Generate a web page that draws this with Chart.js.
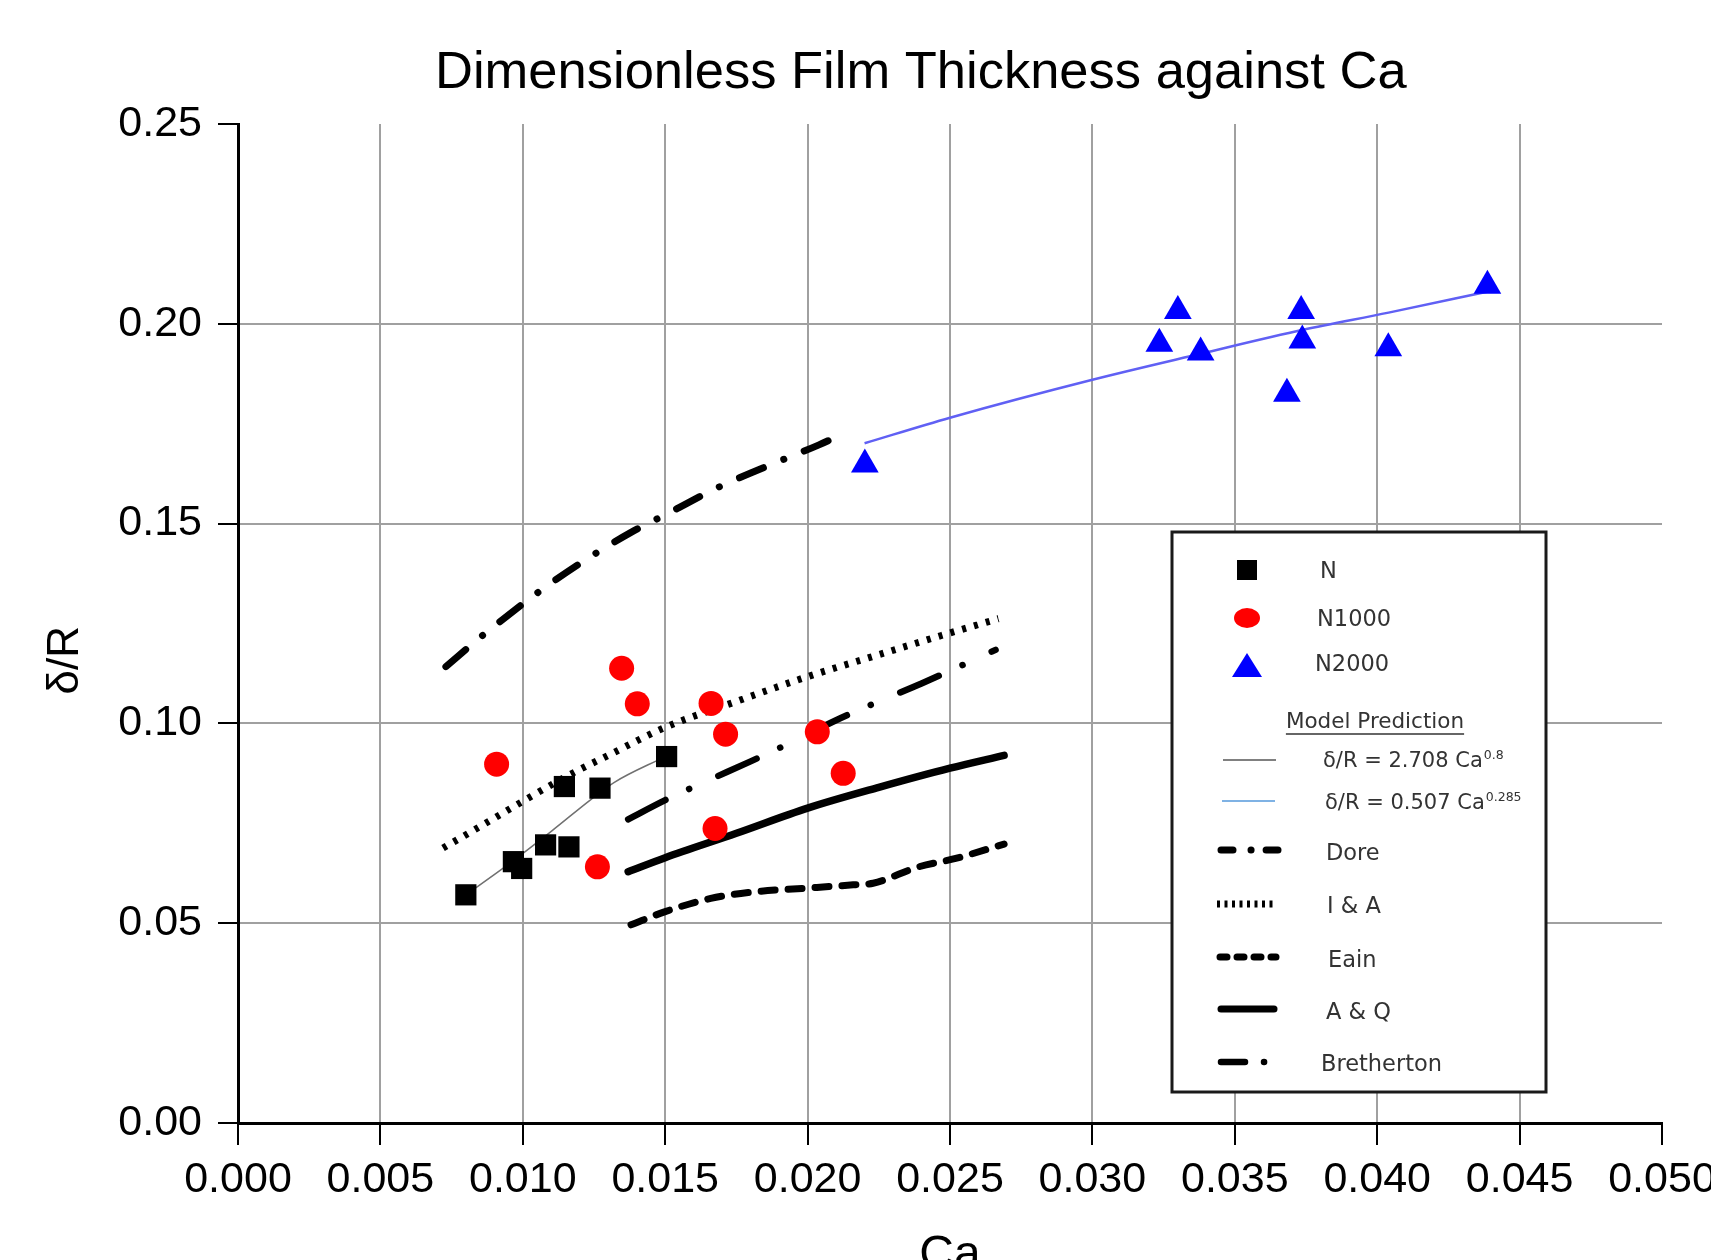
<!DOCTYPE html>
<html>
<head>
<meta charset="utf-8">
<script src="https://cdn.jsdelivr.net/npm/chart.js@4.4.1/dist/chart.umd.min.js"></script>
<style>
html,body{margin:0;padding:0;background:#fff;overflow:hidden}
canvas{display:block}
</style>
</head>
<body>
<canvas id="c" width="1711" height="1260"></canvas>
<script>
// ---------- texts ----------
const chartTitle = 'Dimensionless Film Thickness against Ca';
const xAxisTitle = 'Ca';
const yAxisTitle = 'δ/R';
const legendHeader = 'Model Prediction';

// ---------- ticks ----------
const xTickValues = [0, 0.005, 0.010, 0.015, 0.020, 0.025, 0.030, 0.035, 0.040, 0.045, 0.050];
const xTickLabels = ['0.000','0.005','0.010','0.015','0.020','0.025','0.030','0.035','0.040','0.045','0.050'];
const yTickValues = [0, 0.05, 0.10, 0.15, 0.20, 0.25];
const yTickLabels = ['0.00','0.05','0.10','0.15','0.20','0.25'];

// ---------- measured series ----------
const caN      = [0.0080, 0.00967, 0.00996, 0.0108, 0.01162, 0.01146, 0.01271, 0.01505];
const deltaN   = [0.0571, 0.0654, 0.0637, 0.0696, 0.0691, 0.0842, 0.0838, 0.0917];

const caN1000    = [0.00908, 0.01347, 0.01402, 0.01661, 0.01712, 0.02034, 0.02125, 0.01675, 0.01262];
const deltaN1000 = [0.0898, 0.1138, 0.1049, 0.1050, 0.0973, 0.0979, 0.0875, 0.0737, 0.0641];

const caN2000    = [0.02201, 0.03235, 0.0330, 0.0338, 0.03683, 0.03733, 0.03737, 0.04039, 0.04387];
const deltaN2000 = [0.1648, 0.1950, 0.2032, 0.1928, 0.1825, 0.2032, 0.1958, 0.1939, 0.2095];

// ---------- fitted correlations ----------
const caFitN      = [0.0080, 0.0093, 0.0110, 0.0124, 0.0132, 0.0150];
const deltaFitN   = [0.0571, 0.0637, 0.0730, 0.0810, 0.0852, 0.0917];
const labelFitN   = 'δ/R = 2.708 Ca^0.8';

const caFit2000    = [0.0220, 0.0250, 0.0300, 0.0338, 0.0374, 0.0404, 0.0439];
const deltaFit2000 = [0.1701, 0.1765, 0.1860, 0.1925, 0.1985, 0.2028, 0.2081];
const labelFit2000 = 'δ/R = 0.507 Ca^0.285';

// ---------- model predictions ----------
const caDore    = [0.0073, 0.0085, 0.0098, 0.0105, 0.0120, 0.0138, 0.0150, 0.0169, 0.0191, 0.0204, 0.0214];
const deltaDore = [0.1142, 0.1215, 0.1288, 0.1326, 0.1400, 0.1478, 0.1522, 0.1592, 0.1659, 0.1697, 0.1730];

const caIA    = [0.0072, 0.0085, 0.0100, 0.0115, 0.0130, 0.0150, 0.0175, 0.0200, 0.0225, 0.0247, 0.0267];
const deltaIA = [0.0688, 0.0742, 0.0805, 0.0866, 0.0920, 0.0990, 0.1055, 0.1117, 0.1172, 0.1220, 0.1262];

const caEain    = [0.0138, 0.0150, 0.0166, 0.0182, 0.0198, 0.0216, 0.0223, 0.0239, 0.0252, 0.0269];
const deltaEain = [0.0496, 0.0529, 0.0562, 0.0579, 0.0587, 0.0596, 0.0600, 0.0641, 0.0662, 0.0698];

const caAQ    = [0.0137, 0.0150, 0.0175, 0.0200, 0.0225, 0.0250, 0.0269];
const deltaAQ = [0.0629, 0.0664, 0.0725, 0.0788, 0.0840, 0.0888, 0.0920];

const caBr    = [0.0137, 0.0150, 0.0165, 0.0180, 0.0195, 0.0210, 0.0225, 0.0240, 0.0255, 0.0266];
const deltaBr = [0.0760, 0.0808, 0.0857, 0.0905, 0.0955, 0.1008, 0.1055, 0.1100, 0.1148, 0.1184];

function pts(xs, ys) { return xs.map((x, i) => ({x: x, y: ys[i]})); }

const AXIS_FONT = '"Liberation Sans", Arial, sans-serif';
const LEG_FONT = '"DejaVu Sans", "Liberation Sans", sans-serif';

function modelLine(label, xs, ys, width, dash, cap, legendDash) {
  return {
    label: label, data: pts(xs, ys), showLine: true, pointRadius: 0, pointHoverRadius: 0,
    borderColor: '#000', backgroundColor: '#000', borderWidth: width,
    borderDash: dash, borderCapStyle: cap, borderJoinStyle: 'round',
    cubicInterpolationMode: 'monotone', fill: false,
    legendDash: legendDash
  };
}

const datasets = [
  { label: 'N', data: pts(caN, deltaN), pointStyle: 'rect', pointRadius: 15, pointHoverRadius: 15,
    backgroundColor: '#000', borderColor: '#000', borderWidth: 0, showLine: false },
  { label: 'N1000', data: pts(caN1000, deltaN1000), pointStyle: 'circle', pointRadius: 12.5, pointHoverRadius: 12.5,
    backgroundColor: '#ff0000', borderColor: '#ff0000', borderWidth: 0, showLine: false },
  { label: 'N2000', data: pts(caN2000, deltaN2000), pointStyle: 'triangle', pointRadius: 16, pointHoverRadius: 16,
    backgroundColor: '#0000ff', borderColor: '#0000ff', borderWidth: 0, showLine: false },
  { label: labelFitN, data: pts(caFitN, deltaFitN), showLine: true, pointRadius: 0, pointHoverRadius: 0,
    borderColor: '#707070', borderWidth: 1.5, cubicInterpolationMode: 'monotone', fill: false, legendColor: '#808080' },
  { label: labelFit2000, data: pts(caFit2000, deltaFit2000), showLine: true, pointRadius: 0, pointHoverRadius: 0,
    borderColor: '#6060f4', borderWidth: 2.5, cubicInterpolationMode: 'monotone', fill: false, legendColor: '#7fb2e4' },
  modelLine('Dore', caDore, deltaDore, 7, [26, 22, 0.1, 22], 'round', [12, 18, 0.1, 15]),
  modelLine('I & A', caIA, deltaIA, 7, [4, 8.3], 'butt', [3, 4.5]),
  modelLine('Eain', caEain, deltaEain, 7, [14, 13], 'round', [7, 10]),
  modelLine('A & Q', caAQ, deltaAQ, 7.5, [], 'round', []),
  modelLine('Bretherton', caBr, deltaBr, 6.5, [42, 26, 0.1, 32], 'round', [24, 19, 0.1, 30])
];

// ---------- legend layout ----------
const legendBox = { left: 1172, top: 532, right: 1546, bottom: 1092 };
const legendRows = [
  { ds: 0, y: 570, tx: 1320, ty: 572 },
  { ds: 1, y: 618, tx: 1317, ty: 620 },
  { ds: 2, y: 665, tx: 1315, ty: 665 },
  { ds: 3, y: 760, tx: 1323, ty: 762, small: true, x0: 1223, x1: 1276 },
  { ds: 4, y: 801, tx: 1325, ty: 804, small: true, x0: 1222, x1: 1275 },
  { ds: 5, y: 850, tx: 1326, ty: 854, x0: 1221, x1: 1278 },
  { ds: 6, y: 904, tx: 1327, ty: 907, x0: 1217, x1: 1276 },
  { ds: 7, y: 957, tx: 1328, ty: 961, x0: 1220, x1: 1276 },
  { ds: 8, y: 1009, tx: 1326, ty: 1013, x0: 1221, x1: 1274 },
  { ds: 9, y: 1062, tx: 1321, ty: 1065, x0: 1221, x1: 1270 }
];
const legendHeaderPos = { x: 1375, y: 722 };

function drawLegendMarker(ctx, ds, x, y) {
  ctx.fillStyle = ds.backgroundColor;
  ctx.beginPath();
  if (ds.pointStyle === 'rect') {
    ctx.rect(x - 10, y - 10, 20, 20);
  } else if (ds.pointStyle === 'circle') {
    ctx.ellipse(x, y, 13, 10, 0, 0, Math.PI * 2);
  } else if (ds.pointStyle === 'triangle') {
    ctx.moveTo(x, y - 12); ctx.lineTo(x + 15, y + 12); ctx.lineTo(x - 15, y + 12); ctx.closePath();
  }
  ctx.fill();
}

function drawLegendLabel(ctx, text, x, y, small) {
  const parts = text.split('^');
  const size = small ? 21 : 22.5;
  ctx.font = size + 'px ' + LEG_FONT;
  ctx.fillStyle = '#333';
  ctx.textAlign = 'left';
  ctx.textBaseline = 'middle';
  ctx.fillText(parts[0], x, y);
  if (parts[1]) {
    const w = ctx.measureText(parts[0]).width;
    ctx.font = '12.5px ' + LEG_FONT;
    ctx.fillText(parts[1], x + w + 1, y - 6);
  }
}

const boxLegend = {
  id: 'boxLegend',
  afterDraw(chart) {
    const ctx = chart.ctx;
    const b = legendBox;
    ctx.save();
    ctx.fillStyle = '#fff';
    ctx.fillRect(b.left, b.top, b.right - b.left, b.bottom - b.top);
    ctx.lineWidth = 3;
    ctx.strokeStyle = '#1a1a1a';
    ctx.setLineDash([]);
    ctx.strokeRect(b.left, b.top, b.right - b.left, b.bottom - b.top);

    legendRows.forEach(function (row) {
      const ds = chart.data.datasets[row.ds];
      if (!ds.showLine) {
        drawLegendMarker(ctx, ds, 1247, row.y);
      } else {
        ctx.save();
        ctx.strokeStyle = ds.legendColor || ds.borderColor;
        ctx.lineWidth = ds.legendColor ? 2 : Math.min(ds.borderWidth, 7);
        ctx.lineCap = ds.borderCapStyle || 'butt';
        ctx.setLineDash(ds.legendDash || []);
        ctx.beginPath();
        ctx.moveTo(row.x0, row.y);
        ctx.lineTo(row.x1, row.y);
        ctx.stroke();
        ctx.restore();
      }
      drawLegendLabel(ctx, ds.label, row.tx, row.ty, row.small);
    });

    // header
    ctx.font = '21.5px ' + LEG_FONT;
    ctx.fillStyle = '#333';
    ctx.textAlign = 'center';
    ctx.textBaseline = 'middle';
    ctx.fillText(legendHeader, legendHeaderPos.x, legendHeaderPos.y);
    const hw = ctx.measureText(legendHeader).width;
    ctx.strokeStyle = '#333';
    ctx.lineWidth = 1.5;
    ctx.setLineDash([]);
    ctx.beginPath();
    ctx.moveTo(legendHeaderPos.x - hw / 2, legendHeaderPos.y + 12);
    ctx.lineTo(legendHeaderPos.x + hw / 2, legendHeaderPos.y + 12);
    ctx.stroke();
    ctx.restore();
  }
};

const gridGray = '#a0a0a0';

new Chart(document.getElementById('c'), {
  type: 'scatter',
  data: { datasets: datasets },
  options: {
    responsive: false,
    animation: false,
    events: [],
    layout: { padding: { left: 0, right: 49, top: 0, bottom: 0 }, autoPadding: false },
    plugins: {
      legend: { display: false },
      tooltip: { enabled: false },
      title: {
        display: true,
        text: chartTitle + '    ',
        fullSize: false,
        color: '#000',
        font: { family: AXIS_FONT, size: 52.5, weight: 'normal', lineHeight: 1.2 },
        padding: { top: 42.5, bottom: 18.5 }
      }
    },
    scales: {
      x: {
        type: 'linear',
        position: 'bottom',
        min: 0, max: 0.05,
        afterBuildTicks: function (s) { s.ticks = xTickValues.map(v => ({ value: v })); },
        afterFit: function (s) { s.height = 137; s.paddingLeft = 0; s.paddingRight = 0; },
        ticks: {
          callback: function (v, i) { return xTickLabels[i]; },
          color: '#000',
          font: { family: AXIS_FONT, size: 43 },
          padding: 9,
          maxRotation: 0, minRotation: 0, autoSkip: false
        },
        grid: {
          color: function (c) { return (c.tick && c.tick.value > 0.0001 && c.tick.value < 0.0499) ? gridGray : 'rgba(0,0,0,0)'; },
          lineWidth: 2,
          drawTicks: true,
          tickLength: 22,
          tickColor: '#000',
          tickWidth: 2
        },
        border: { display: true, color: '#000', width: 3 },
        title: {
          display: true, text: xAxisTitle, color: '#000',
          font: { family: AXIS_FONT, size: 48, lineHeight: 0.19 },
          padding: { top: 0, bottom: 0 }
        }
      },
      y: {
        type: 'linear',
        position: 'left',
        min: 0, max: 0.25,
        afterBuildTicks: function (s) { s.ticks = yTickValues.map(v => ({ value: v })); },
        afterFit: function (s) { s.width = 238; s.paddingTop = 0; s.paddingBottom = 0; },
        ticks: {
          callback: function (v, i) { return yTickLabels[i]; },
          color: '#000',
          font: { family: AXIS_FONT, size: 43 },
          padding: 16,
          autoSkip: false
        },
        grid: {
          color: function (c) { return (c.tick && c.tick.value > 0.0001 && c.tick.value < 0.249) ? gridGray : 'rgba(0,0,0,0)'; },
          lineWidth: 2,
          drawTicks: true,
          tickLength: 20,
          tickColor: '#000',
          tickWidth: 2
        },
        border: { display: true, color: '#000', width: 3 },
        title: {
          display: true, text: yAxisTitle + '      ', color: '#000',
          font: { family: AXIS_FONT, size: 44, lineHeight: 1.2 },
          padding: { top: 39, bottom: 0 }
        }
      }
    }
  },
  plugins: [boxLegend]
});
</script>
</body>
</html>
